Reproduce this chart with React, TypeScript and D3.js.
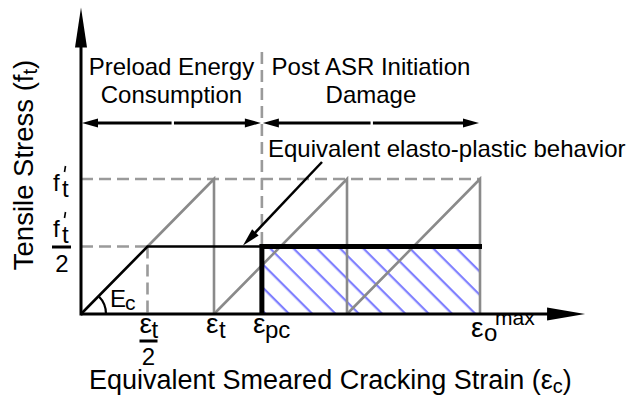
import React from "react";
import * as d3 from "d3";

// ---- data (strain in units of εt, stress in units of f't) ----
const cycleStarts = [0, 1, 2];           // sawtooth loading cycles
const peakStress = 1;                    // f't
const plateauStress = 0.5;               // f't / 2
const halfStrain = 0.5;                  // εt / 2
const epsPC = 1.36;                      // εpc
const epsMax = 3;                        // εo^max
const xAxisEnd = 3.79;
const yAxisEnd = 2.27;
const regionLevel = 1.415;
const dividerTop = 1.94;
const regionBounds = [0, epsPC, epsMax];
const regionGaps = [0.69, 2.186];
const regionLine1 = ["Preload Energy", "Post ASR Initiation"];
const regionLine2 = ["Consumption", "Damage"];
const calloutText = "Equivalent elasto-plastic behavior";
const xTitle = "Equivalent Smeared Cracking Strain (";
const yTitle = "Tensile Stress (f";

const W = 626, H = 402;
const FONT = "'Liberation Sans', Arial, sans-serif";
const GRAY = "#8a8a8a";
const DGRAY = "#9a9a9a";

const x = d3.scaleLinear().domain([0, 1]).range([81, 214]);
const y = d3.scaleLinear().domain([0, 1]).range([314, 179]);

function arrowHead(tx: number, ty: number, dx: number, dy: number, len: number, half: number) {
  const n = Math.hypot(dx, dy);
  const ux = dx / n, uy = dy / n;
  const bx = tx - ux * len, by = ty - uy * len;
  const px = -uy, py = ux;
  return `M${tx},${ty}L${bx + px * half},${by + py * half}L${bx - px * half},${by - py * half}Z`;
}

function FPrime({ xx, yb }: { xx: number; yb: number }) {
  return (
    <g fontFamily={FONT} fontSize={24} fill="#000">
      <text x={xx} y={yb}>f</text>
      <line x1={xx + 12.5} y1={yb - 25} x2={xx + 11.5} y2={yb - 19} stroke="#000" strokeWidth={1.6} />
      <text x={xx + 9} y={yb + 6}>t</text>
    </g>
  );
}

export default function App() {
  const line = d3.line<[number, number]>().x((d) => x(d[0])).y((d) => y(d[1]));
  const x0 = x(0), y0 = y(0);
  const s = 23.3 / Math.SQRT2;
  const u0 = ((268 - 246) / Math.SQRT2) % s;

  return (
    <svg width={W} height={H} style={{ position: "fixed", left: 0, top: 0, background: "#fff" }}>
      <defs>
        <pattern id="hatch" patternUnits="userSpaceOnUse" width={s} height={s} patternTransform="rotate(-45)">
          <line x1={u0} y1={-5} x2={u0} y2={s + 5} stroke="#7f7fff" strokeWidth={2.6} />
        </pattern>
      </defs>
      <rect width={W} height={H} fill="#fff" />

      {/* hatched energy region */}
      <rect x={x(epsPC)} y={y(plateauStress)} width={x(epsMax) - x(epsPC)} height={y0 - y(plateauStress)} fill="url(#hatch)" />

      {/* dashed guides */}
      <g stroke={DGRAY} strokeWidth={2.6} strokeDasharray="12 6" fill="none">
        <path d={line([[0, peakStress], [epsMax, peakStress]])!} />
        <path d={line([[0, plateauStress], [halfStrain, plateauStress]])!} />
        <path d={line([[halfStrain, plateauStress], [halfStrain, 0]])!} />
        <path d={line([[epsPC, dividerTop], [epsPC, plateauStress]])!} />
      </g>

      {/* sawtooth cycles */}
      <g stroke={GRAY} strokeWidth={2.6} fill="none">
        {cycleStarts.map((c, i) => (
          <path key={i} d={line(i === 0
            ? [[halfStrain, plateauStress], [c + 1, peakStress], [c + 1, 0]]
            : [[c, 0], [c + 1, peakStress], [c + 1, 0]])!} />
        ))}
      </g>

      {/* elasto-plastic */}
      <path d={line([[0, 0], [halfStrain, plateauStress], [epsPC, plateauStress]])!} stroke="#000" strokeWidth={2.6} fill="none" />
      <path d={line([[epsPC, 0], [epsPC, plateauStress], [epsMax + 0.015, plateauStress]])!} stroke="#000" strokeWidth={5} fill="none" strokeLinejoin="miter" />

      {/* Ec arc */}
      <path d={`M${x0 + 25},${y0}A25,25 0 0 0 ${x0 + 25 * Math.SQRT1_2},${y0 - 25 * Math.SQRT1_2}`} stroke="#000" strokeWidth={2.2} fill="none" />
      <text x={110} y={307} fontFamily={FONT} fontSize={24}>E</text>
      <text x={125} y={310} fontFamily={FONT} fontSize={21}>c</text>

      {/* axes */}
      <line x1={x0} y1={y0} x2={x(xAxisEnd) - 30} y2={y0} stroke="#000" strokeWidth={3} />
      <path d={arrowHead(x(xAxisEnd), y0, 1, 0, 38, 6.5)} fill="#000" />
      <line x1={x0} y1={y0 + 1.5} x2={x0} y2={y(yAxisEnd) + 30} stroke="#000" strokeWidth={3} />
      <path d={arrowHead(x0, y(yAxisEnd), 0, -1, 40, 6)} fill="#000" />

      {/* region arrows */}
      {regionGaps.map((g, i) => {
        const a = x(regionBounds[i]) + 1, b = x(regionBounds[i + 1]) - 1;
        const gc = x(g), yy = y(regionLevel);
        return (
          <g key={i}>
            <line x1={a + 10} y1={yy} x2={gc - 1.2} y2={yy} stroke="#000" strokeWidth={3} />
            <line x1={gc + 1.2} y1={yy} x2={b - 10} y2={yy} stroke="#000" strokeWidth={3} />
            <path d={arrowHead(a, yy, -1, 0, 16, 4.5)} fill="#000" />
            <path d={arrowHead(b, yy, 1, 0, 16, 4.5)} fill="#000" />
            <text x={(a + b) / 2} y={75} textAnchor="middle" fontFamily={FONT} fontSize={24}>{regionLine1[i]}</text>
            <text x={(a + b) / 2} y={103} textAnchor="middle" fontFamily={FONT} fontSize={24}>{regionLine2[i]}</text>
          </g>
        );
      })}

      {/* callout */}
      <text x={268} y={157} fontFamily={FONT} fontSize={24}>{calloutText}</text>
      <line x1={322} y1={162} x2={251} y2={237} stroke="#000" strokeWidth={2.5} />
      <path d={arrowHead(243, 245.5, -79, 83.5, 18, 4.5)} fill="#000" />

      {/* y tick labels */}
      <FPrime xx={53} yb={191} />
      <FPrime xx={53} yb={237} />
      <line x1={52} x2={71} y1={247} y2={247} stroke="#000" strokeWidth={3} />
      <text x={62} y={272} textAnchor="middle" fontFamily={FONT} fontSize={24}>2</text>

      {/* x tick labels */}
      <g fontFamily={FONT} fontSize={24}>
        <text x={x(halfStrain) - 8} y={333} fontSize={28}>ε</text>
        <text x={x(halfStrain) + 4} y={338}>t</text>
        <line x1={x(halfStrain) - 8} x2={x(halfStrain) + 10} y1={341} y2={341} stroke="#000" strokeWidth={3} />
        <text x={x(halfStrain) + 1} y={365} textAnchor="middle">2</text>

        <text x={x(1) - 8} y={333} fontSize={28}>ε</text>
        <text x={x(1) + 5} y={338}>t</text>

        <text x={x(epsPC) - 9} y={333} fontSize={28}>ε</text>
        <text x={x(epsPC) + 3} y={338}>pc</text>

        <text x={x(epsMax) - 9} y={337} fontSize={28}>ε</text>
        <text x={x(epsMax) + 4} y={341}>o</text>
        <text x={x(epsMax) + 15} y={325} fontSize={21}>max</text>
      </g>

      {/* axis titles */}
      <text x={89} y={389} fontFamily={FONT} fontSize={27}>
        {xTitle}ε<tspan dy={4} fontSize={20}>c</tspan><tspan dy={-4}>)</tspan>
      </text>
      <text transform={`translate(33,${165}) rotate(-90)`} textAnchor="middle" fontFamily={FONT} fontSize={27.5}>
        {yTitle}<tspan dy={4} fontSize={20}>t</tspan><tspan dy={-4}>)</tspan>
      </text>
    </svg>
  );
}
